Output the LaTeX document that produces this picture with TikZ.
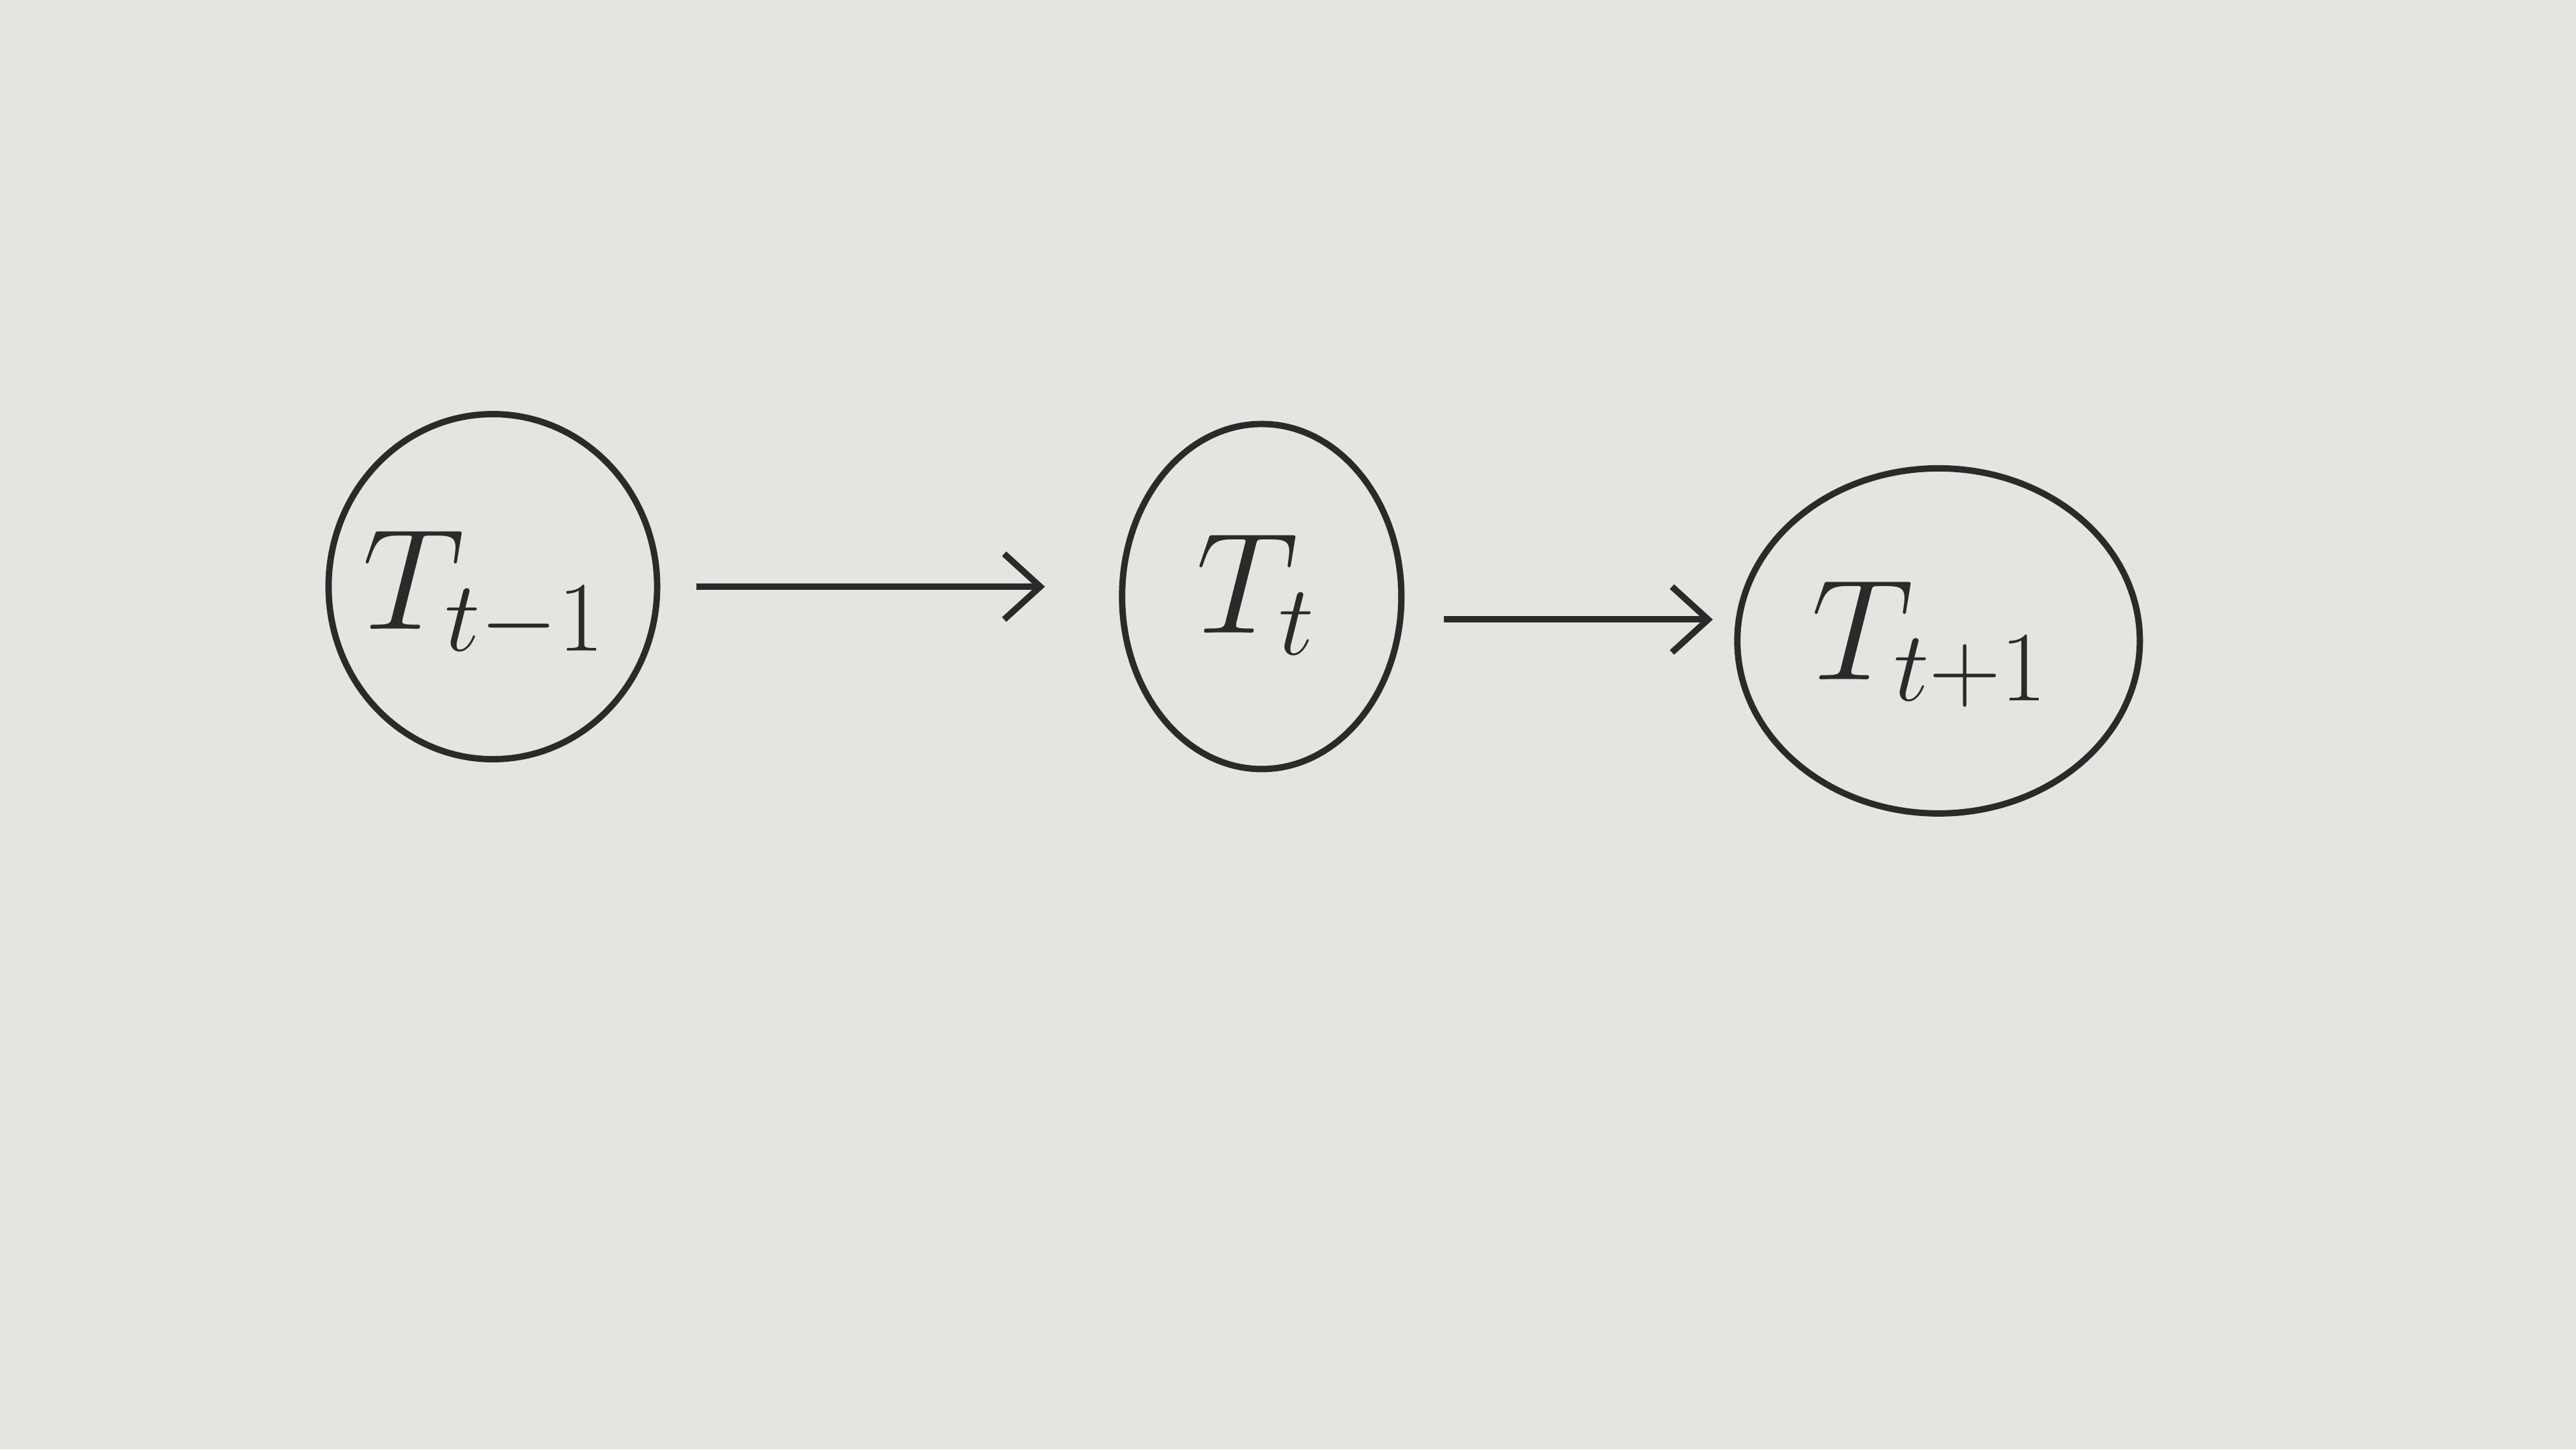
\documentclass[tikz,border=0pt]{standalone}
\usetikzlibrary{shapes.geometric,arrows.meta}
\definecolor{board}{HTML}{E4E4E0}
\definecolor{ink}{HTML}{2A2A2A}
\begin{document}
\begin{tikzpicture}[
  state/.style={ellipse, draw=ink, line width=1.1pt, inner sep=0pt},
  lbl/.style={inner sep=0pt, text=ink, font=\fontsize{36}{40}\selectfont},
  link/.style={draw=ink, line width=1.1pt, -{Straight Barb[length=2.2mm,width=4mm]}}
]
\fill[board] (0,0) rectangle (15.68,8.82);
\useasboundingbox (0,0) rectangle (15.68,8.82);
\node[state, minimum width=2.0cm, minimum height=2.1cm] (a) at (3.00,5.25) {};
\node[state, minimum width=1.7cm, minimum height=2.1cm] (b) at (7.68,5.19) {};
\node[state, minimum width=2.45cm, minimum height=2.1cm] (c) at (11.80,4.92) {};
\node[lbl] (la) at (2.95,5.2) {$T_{\scriptscriptstyle t-1}$};
\node[lbl] (lb) at (7.65,5.2) {$T_{\scriptscriptstyle t}$};
\node[lbl] (lc) at (11.75,4.9) {$T_{\scriptscriptstyle t+1}$};
\draw[link, shorten <=0.22cm, shorten >=0.45cm] (a.east) -- (a.east -| b.west);
\draw[link, shorten <=0.24cm, shorten >=0.13cm] ([yshift=-0.14cm]b.east) -- ([yshift=-0.14cm]b.east -| c.west);
\end{tikzpicture}
\end{document}
